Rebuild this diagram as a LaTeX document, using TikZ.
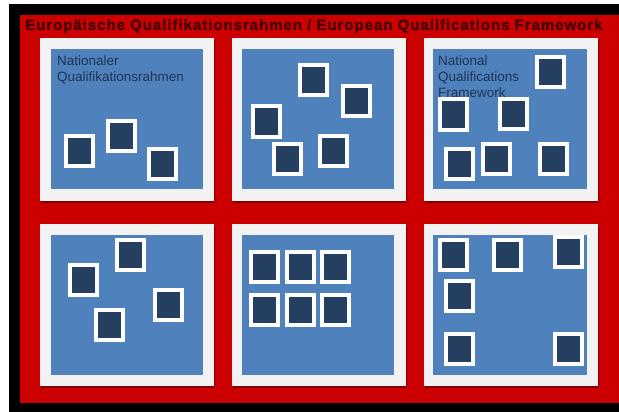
\documentclass[tikz,border=0pt]{standalone}
\usepackage{fontspec}
\setmainfont{Liberation Sans}
\newfontfamily\titlefont[FakeBold=2,LetterSpace=6.5]{Liberation Sans Bold}
\usetikzlibrary{shadows}
\definecolor{framered}{HTML}{CC0000}
\definecolor{panelgray}{HTML}{F2F2F2}
\definecolor{panelblue}{HTML}{4F81BD}
\definecolor{tilenavy}{HTML}{243F60}
\definecolor{titledark}{HTML}{4A0000}
\definecolor{labelnavy}{HTML}{1F3556}
\tikzset{
  panelframe/.style={rectangle, fill=panelgray, inner sep=0pt, minimum width=174pt, minimum height=163pt,
    drop shadow={shadow xshift=1pt, shadow yshift=-2pt, opacity=0.35, fill=black}},
  panelinner/.style={rectangle, fill=panelblue, inner sep=0pt},
  tile/.style={rectangle, fill=tilenavy, draw=white, line width=4pt, inner sep=0pt,
    minimum width=27pt, minimum height=30pt,
    drop shadow={shadow xshift=1.5pt, shadow yshift=-1.5pt, opacity=0.35, fill=black}},
  paneltext/.style={anchor=north west, inner sep=0pt, align=left, text=labelnavy,
    font=\fontsize{13.5pt}{16pt}\selectfont},
}
\begin{document}
\begin{tikzpicture}[x=1pt,y=-1pt]
\useasboundingbox (0,0) rectangle (619,412);
\fill[white] (0,0) rectangle (619,412);
\fill[black] (9,4) rectangle (619,412);
\fill[framered] (20,15) rectangle (619,403);
\node[anchor=base west, inner sep=0pt, text=titledark, font=\titlefont\fontsize{15pt}{17pt}\selectfont] (title) at (25,30)
  {Europäische Qualifikationsrahmen / European Qualifications Framework};
% panels row 1
\node[panelframe] (f1) at (126.5,119.5) {};
\node[panelinner, minimum width=152pt, minimum height=140pt] (b1) at (127,119) {};
\node[panelframe] (f2) at (318.5,119.5) {};
\node[panelinner, minimum width=152pt, minimum height=140pt] (b2) at (318,119) {};
\node[panelframe] (f3) at (510.5,119.5) {};
\node[panelinner, minimum width=154pt, minimum height=140pt] (b3) at (510,119) {};
% panels row 2
\node[panelframe, minimum height=162pt] (f4) at (126.5,305) {};
\node[panelinner, minimum width=152pt, minimum height=140pt] (b4) at (127,305) {};
\node[panelframe, minimum height=162pt] (f5) at (318.5,305) {};
\node[panelinner, minimum width=152pt, minimum height=140pt] (b5) at (318,305) {};
\node[panelframe, minimum height=162pt] (f6) at (510.5,305) {};
\node[panelinner, minimum width=154pt, minimum height=140pt] (b6) at (510,305) {};
% labels
\node[paneltext] (l1) at (57,56) {Nationaler\\Qualifikationsrahmen};
\node[paneltext] (l3) at (438,56) {National\\Qualifications\\Framework};
% panel 1 tiles
\node[tile] (a) at (79.5,151) {};
\node[tile] (b) at (121,136) {};
\node[tile] (c) at (162,163.5) {};
% panel 2 tiles
\node[tile] (d) at (266,121.5) {};
\node[tile] (e) at (287,159) {};
\node[tile] (f) at (313,80) {};
\node[tile] (g) at (356,101) {};
\node[tile] (h) at (333.5,151) {};
% panel 3 tiles
\node[tile] (i) at (550,72) {};
\node[tile] (j) at (453.5,114.5) {};
\node[tile] (k) at (513.5,114) {};
\node[tile] (l) at (459.5,163.5) {};
\node[tile] (m) at (496,159) {};
\node[tile] (n) at (553.5,159) {};
% panel 4 tiles
\node[tile] (o) at (83.5,280) {};
\node[tile] (p) at (130,255) {};
\node[tile] (q) at (168,305) {};
\node[tile] (r) at (109.5,325) {};
% panel 5 grid
\node[tile] (g11) at (264,267) {};
\node[tile] (g12) at (300,267) {};
\node[tile] (g13) at (335.5,267) {};
\node[tile] (g21) at (264,309.5) {};
\node[tile] (g22) at (300,309.5) {};
\node[tile] (g23) at (335.5,309.5) {};
% panel 6 tiles
\node[tile] (s) at (453.5,255) {};
\node[tile] (t) at (507,255) {};
\node[tile] (u) at (568.5,251.5) {};
\node[tile] (v) at (459.5,296) {};
\node[tile] (w) at (459.5,348.5) {};
\node[tile] (x) at (568.5,348.5) {};
\end{tikzpicture}
\end{document}
